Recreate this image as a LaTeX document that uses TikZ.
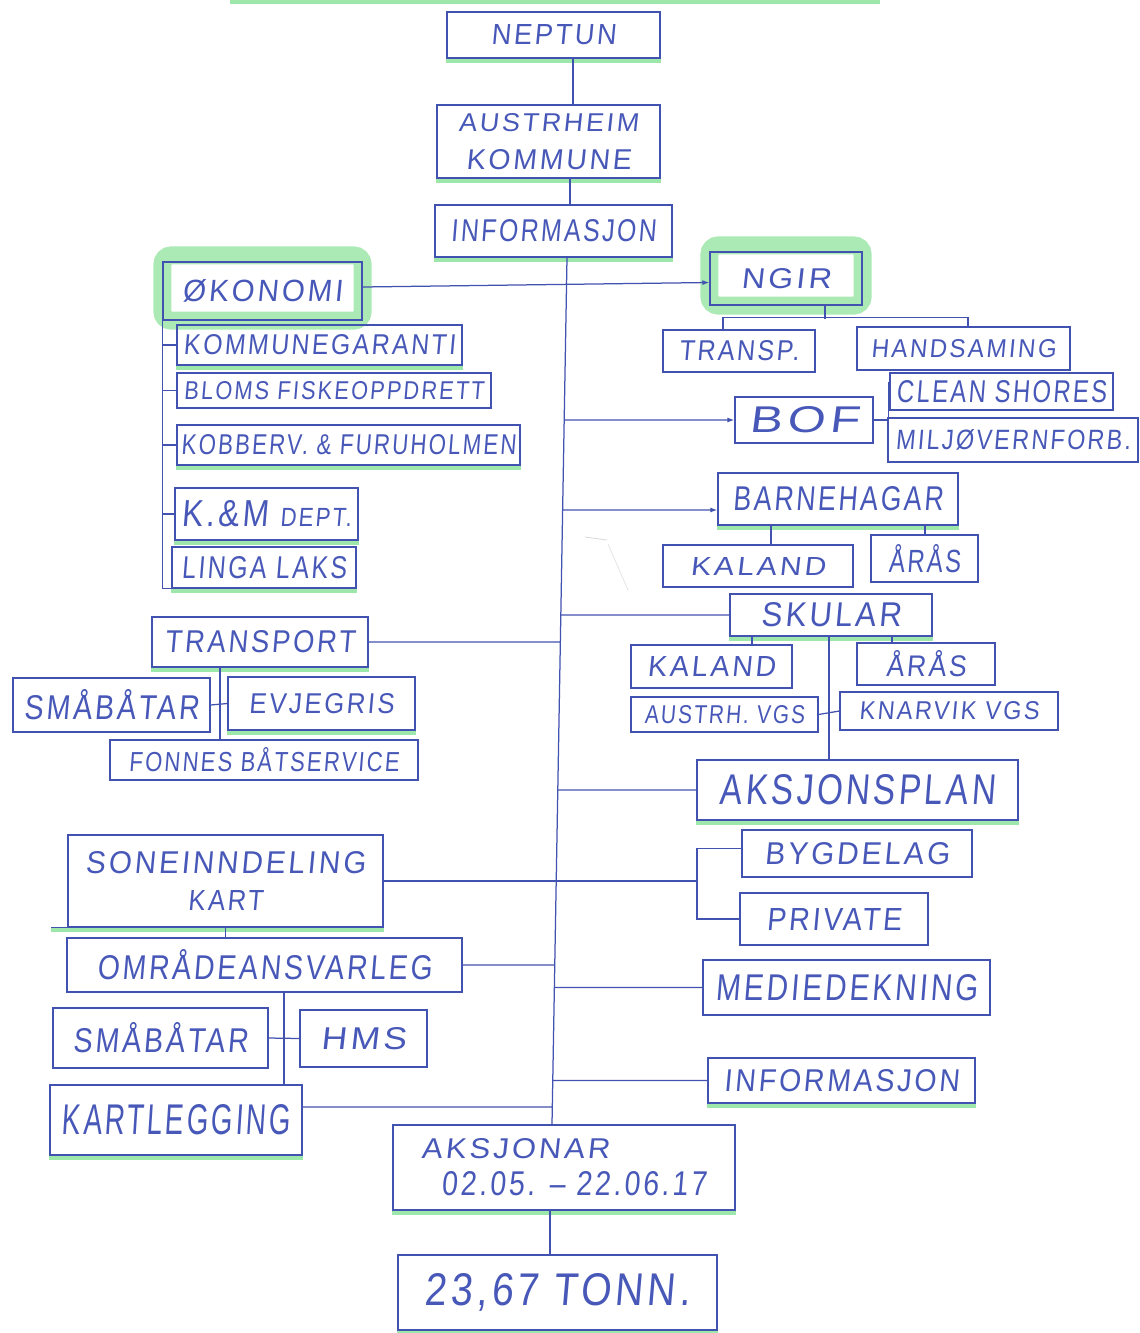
\documentclass[tikz,border=0pt]{standalone}
\usepackage{fontspec}
\usepackage{graphicx}
\usetikzlibrary{arrows.meta,backgrounds,calc}
\newfontfamily\hand[LetterSpace=10,FakeSlant=0.1]{Liberation Sans}
\definecolor{ink}{HTML}{4152B0}
\definecolor{txt}{HTML}{4858B8}
\definecolor{hl}{HTML}{7EE08E}
\newcommand\ft[3]{\resizebox{#1pt}{#2pt}{\hand #3}}
\begin{document}
\begin{tikzpicture}[x=1pt,y=-1pt,
  box/.style={draw=ink,line width=1.2pt,inner sep=0pt,text=txt},
  con/.style={draw=ink,line width=1.25pt},
  arr/.style={con,-{Latex[length=7pt,width=5pt]}},
  hlb/.style={draw=hl,line width=5pt,opacity=.75},
  hlf/.style={draw=hl,line width=18pt,opacity=.65,rounded corners=9pt}]
\useasboundingbox (0,0) rectangle (1140,1333);

% top column
\node[box,minimum width=213pt,minimum height=46pt] (neptun) at (553.5,35) {\ft{125}{20}{NEPTUN}};
\node[box,minimum width=223pt,minimum height=73pt,align=center] (austr) at (548.5,141.5) {\ft{180}{18}{AUSTRHEIM}\\[17pt]\ft{165}{20}{KOMMUNE}};
\node[box,minimum width=237pt,minimum height=52pt] (info1) at (553.5,231) {\ft{205}{22}{INFORMASJON}};

% left: okonomi
\node[box,minimum width=199pt,minimum height=58pt] (okonomi) at (262.5,291) {\ft{160}{22}{ØKONOMI}};
\node[box,minimum width=285pt,minimum height=40pt] (kommg) at (319.5,345) {\ft{272}{20}{KOMMUNEGARANTI}};
\node[box,minimum width=314pt,minimum height=35pt] (bloms) at (334,390.5) {\ft{300}{18}{BLOMS FISKEOPPDRETT}};
\node[box,minimum width=343pt,minimum height=40pt] (kobb) at (348.5,445) {\ft{335}{20}{KOBBERV. \& FURUHOLMEN}};
\node[box,minimum width=183pt,minimum height=52pt] (kmdept) at (266.5,514) {\ft{170}{26}{K.\&M\ {\scriptsize DEPT.}}};
\node[box,minimum width=184pt,minimum height=41pt] (linga) at (264,567.5) {\ft{165}{22}{LINGA LAKS}};

% right: ngir
\node[box,minimum width=152pt,minimum height=53pt] (ngir) at (786,278.5) {\ft{90}{20}{NGIR}};
\node[box,minimum width=152pt,minimum height=42pt] (transp) at (739,351) {\ft{120}{20}{TRANSP.}};
\node[box,minimum width=213pt,minimum height=43pt] (hands) at (963.5,348.5) {\ft{185}{18}{HANDSAMING}};

% bof
\node[box,minimum width=138pt,minimum height=46pt] (bof) at (804,420) {\ft{110}{26}{BOF}};
\node[box,minimum width=223pt,minimum height=37pt] (clean) at (1001.5,391.5) {\ft{210}{22}{CLEAN SHORES}};
\node[box,minimum width=250pt,minimum height=44pt] (miljo) at (1013,440) {\ft{235}{20}{MILJØVERNFORB.}};

% barnehagar
\node[box,minimum width=240pt,minimum height=52pt] (barne) at (838,499) {\ft{210}{24}{BARNEHAGAR}};
\node[box,minimum width=190pt,minimum height=42pt] (kaland1) at (758,566) {\ft{135}{18}{KALAND}};
\node[box,minimum width=107pt,minimum height=47pt] (aras1) at (924.5,558.5) {\ft{72}{28}{ÅRÅS}};

% skular
\node[box,minimum width=202pt,minimum height=42pt] (skular) at (831,615) {\ft{140}{24}{SKULAR}};
\node[box,minimum width=161pt,minimum height=43pt] (kaland2) at (711.5,666.5) {\ft{128}{20}{KALAND}};
\node[box,minimum width=138pt,minimum height=42pt] (aras2) at (926,664) {\ft{80}{26}{ÅRÅS}};
\node[box,minimum width=187pt,minimum height=35pt] (austvgs) at (724.5,714.5) {\ft{160}{18}{AUSTRH. VGS}};
\node[box,minimum width=218pt,minimum height=38pt] (knarvik) at (949,711) {\ft{180}{18}{KNARVIK VGS}};

% aksjonsplan
\node[box,minimum width=321pt,minimum height=60pt] (aksplan) at (857.5,790) {\ft{275}{30}{AKSJONSPLAN}};
\node[box,minimum width=230pt,minimum height=47pt] (bygde) at (857,853.5) {\ft{185}{22}{BYGDELAG}};
\node[box,minimum width=188pt,minimum height=52pt] (private) at (834,919) {\ft{135}{22}{PRIVATE}};
\node[box,minimum width=287pt,minimum height=55pt] (medie) at (846.5,987.5) {\ft{262}{26}{MEDIEDEKNING}};
\node[box,minimum width=267pt,minimum height=45pt] (info2) at (841.5,1080.5) {\ft{235}{22}{INFORMASJON}};

% left: transport
\node[box,minimum width=216pt,minimum height=50pt] (transport) at (260,642) {\ft{190}{22}{TRANSPORT}};
\node[box,minimum width=197pt,minimum height=54pt] (smab1) at (111.5,705) {\ft{175}{30}{SMÅBÅTAR}};
\node[box,minimum width=187pt,minimum height=53pt] (evje) at (321.5,703.5) {\ft{145}{20}{EVJEGRIS}};
\node[box,minimum width=308pt,minimum height=40pt] (fonnes) at (264,760) {\ft{270}{24}{FONNES BÅTSERVICE}};

% left bottom
\node[box,minimum width=315pt,minimum height=92pt,align=center] (sone) at (225.5,881) {\ft{280}{22}{SONEINNDELING}\\[16pt]\ft{75}{20}{KART}};
\node[box,minimum width=395pt,minimum height=54pt] (omrade) at (264.5,965) {\ft{335}{30}{OMRÅDEANSVARLEG}};
\node[box,minimum width=215pt,minimum height=60pt] (smab2) at (160.5,1038) {\ft{175}{30}{SMÅBÅTAR}};
\node[box,minimum width=127pt,minimum height=57pt] (hms) at (363.5,1038.5) {\ft{85}{22}{HMS}};
\node[box,minimum width=252pt,minimum height=70pt] (kartl) at (176,1120) {\ft{228}{30}{KARTLEGGING}};

% bottom
\node[box,minimum width=342pt,minimum height=85pt,align=left] (aksjonar) at (564,1167.5) {\ft{188}{20}{AKSJONAR}\\[12pt]\hspace*{20pt}\ft{265}{24}{02.05. – 22.06.17}};
\node[box,minimum width=319pt,minimum height=75pt] (tonn) at (557.5,1292.5) {\ft{265}{32}{23,67 TONN.}};

% ---- connectors ----
\coordinate (st) at ([xshift=13.5pt]info1.south);
\coordinate (sb) at ([xshift=-12pt]aksjonar.north);
\draw[con] (st) -- (sb);
\draw[con] ([xshift=19.5pt]neptun.south) -- ([xshift=19.5pt]neptun.south |- austr.north);
\draw[con] ([xshift=21.5pt]austr.south) -- ([xshift=21.5pt]austr.south |- info1.north);

\draw[arr] ([yshift=4pt]okonomi.east) -- ([yshift=-4pt]ngir.west);
\draw[con] ([xshift=39pt]ngir.south) -- ++(0,13);
\draw[con] ([xshift=-16pt]transp.north) -- ++(0,-12) -| ([xshift=4.5pt]hands.north);

\draw[arr] (intersection of st--sb and bof.west--bof.east) -- (bof.west);
\coordinate (bj) at ([xshift=15pt]bof.east);
\draw[con] (bof.east) -- (bj);
\draw[con] ([yshift=10pt]clean.west -| bj) -- ([yshift=-12pt]miljo.west -| bj);
\draw[con] (clean.west -| bj) -- (clean.west);

\coordinate (b1) at ([yshift=-11pt]barne.west);
\coordinate (b2) at ([yshift=-11pt]barne.east);
\draw[arr] (intersection of st--sb and b1--b2) -- (b1);
\draw[con] ([xshift=-67pt]barne.south) -- ([xshift=-67pt]barne.south |- kaland1.north);
\draw[con] ([xshift=87pt]barne.south) -- ([xshift=87pt]barne.south |- aras1.north);

\draw[con] (intersection of st--sb and skular.west--skular.east) -- (skular.west);
\draw[con] ([xshift=-79pt]skular.south) -- ([xshift=-79pt]skular.south |- kaland2.north);
\draw[con] ([xshift=61pt]skular.south) -- ([xshift=61pt]skular.south |- aras2.north);
\draw[con] ([xshift=-2pt]skular.south) -- ([xshift=-2pt]skular.south |- aksplan.north);
\draw[con] (austvgs.east) -- (knarvik.west);

\draw[con] (intersection of st--sb and aksplan.west--aksplan.east) -- (aksplan.west);
\coordinate (bx) at (697,0);
\draw[con] (sone.east) -- (sone.east -| bx);
\draw[con] ([yshift=5pt]bygde.west) -- ([yshift=5pt]bygde.west -| bx) -- (private.west -| bx) -- (private.west);
\draw[con] (intersection of st--sb and medie.west--medie.east) -- (medie.west);
\draw[con] (intersection of st--sb and info2.west--info2.east) -- (info2.west);

% okonomi children
\draw[con] (okonomi.south west) -- (okonomi.south west |- linga.south) -- (linga.south west);
\foreach \n in {kommg,bloms,kobb,kmdept}
  \draw[con] (\n.west) -- (\n.west -| okonomi.west);

% transport
\draw[con] (transport.east) -- (intersection of st--sb and transport.east--transport.west);
\draw[con] ([xshift=-40pt]transport.south) -- ([xshift=-40pt]transport.south |- fonnes.north);
\draw[con] (smab1.east) -- (evje.west);

% left bottom
\draw[con] (sone.south west) -- ++(-16,0);
\draw[con] (sone.south) -- (sone.south |- omrade.north);
\draw[con] (omrade.east) -- (intersection of st--sb and omrade.east--omrade.west);
\draw[con] ([xshift=19.5pt]omrade.south) -- ([xshift=19.5pt]omrade.south |- kartl.north);
\draw[con] (smab2.east) -- (hms.west);
\coordinate (k1) at ([yshift=13pt]kartl.east);
\coordinate (k2) at ([yshift=13pt]kartl.west);
\draw[con] (k1) -- (intersection of st--sb and k1--k2);

\draw[con] ([xshift=-14pt]aksjonar.south) -- ([xshift=-14pt]aksjonar.south |- tonn.north);

% faint erased stroke
\draw[gray!30,line width=0.8pt] (585,537) -- (607,540);
\draw[gray!20,line width=0.8pt] (608,544) -- (628,590);

% ---- highlights ----
\begin{pgfonlayer}{background}
\fill[white] (0,0) rectangle (1140,1333);
\draw[hl,line width=5pt,opacity=.75] (230,1) -- (880,1);
\draw[hlf] ([yshift=6pt]okonomi.north west) rectangle (okonomi.south east);
\draw[hlf] ([yshift=6pt]ngir.north west) rectangle (ngir.south east);
\foreach \n in {neptun,austr,info1,kommg,kobb,kmdept,linga,transport,evje,barne,skular,aksplan,info2,kartl,aksjonar,tonn}
  \draw[hlb] ([yshift=-2pt]\n.south west) -- ([yshift=-2pt]\n.south east);
\draw[hlb] ([yshift=-2pt,xshift=-16pt]sone.south west) -- ([yshift=-2pt]sone.south east);
\end{pgfonlayer}
\end{tikzpicture}
\end{document}
